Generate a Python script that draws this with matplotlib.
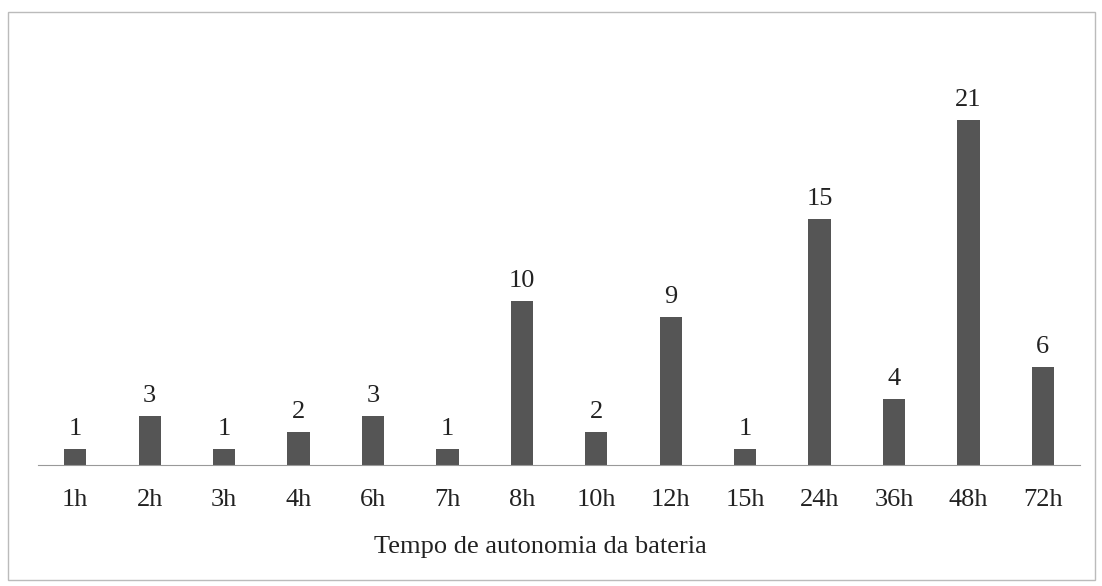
import matplotlib.pyplot as plt
from matplotlib.patches import Rectangle

categorias = ['1h', '2h', '3h', '4h', '6h', '7h', '8h', '10h', '12h', '15h', '24h', '36h', '48h', '72h']
valores = [1, 3, 1, 2, 3, 1, 10, 2, 9, 1, 15, 4, 21, 6]

plt.rcParams['font.family'] = ['Liberation Serif', 'DejaVu Serif']

fig = plt.figure(figsize=(11.02, 5.86), dpi=100)
ax = fig.add_axes([0.0345, 0.2065, 0.9456, 0.672])

x = range(len(categorias))
ax.bar(x, valores, width=0.3, color='#555555')
for xi, v in zip(x, valores):
    ax.text(xi, v + 0.55, str(v), ha='center', va='bottom', fontsize=19, color='#222222')

ax.set_xlim(-0.5, len(categorias) - 0.5)
ax.set_ylim(0, 24)
ax.set_xticks(list(x))
ax.set_xticklabels(categorias, fontsize=19, color='#222222')
ax.tick_params(axis='x', length=0, pad=17)
ax.set_yticks([])
for lado in ['top', 'right', 'left']:
    ax.spines[lado].set_visible(False)
ax.spines['bottom'].set_color('#999999')
ax.set_xlabel('Tempo de autonomia da bateria', fontsize=19, color='#222222')
ax.xaxis.set_label_coords(0.482, -0.18)

fig.patches.append(Rectangle((8 / 1102, 6 / 586), 1087 / 1102, 568 / 586,
                             transform=fig.transFigure, fill=False,
                             edgecolor='#bbbbbb', linewidth=1))

fig.savefig('out.png', dpi=100)
